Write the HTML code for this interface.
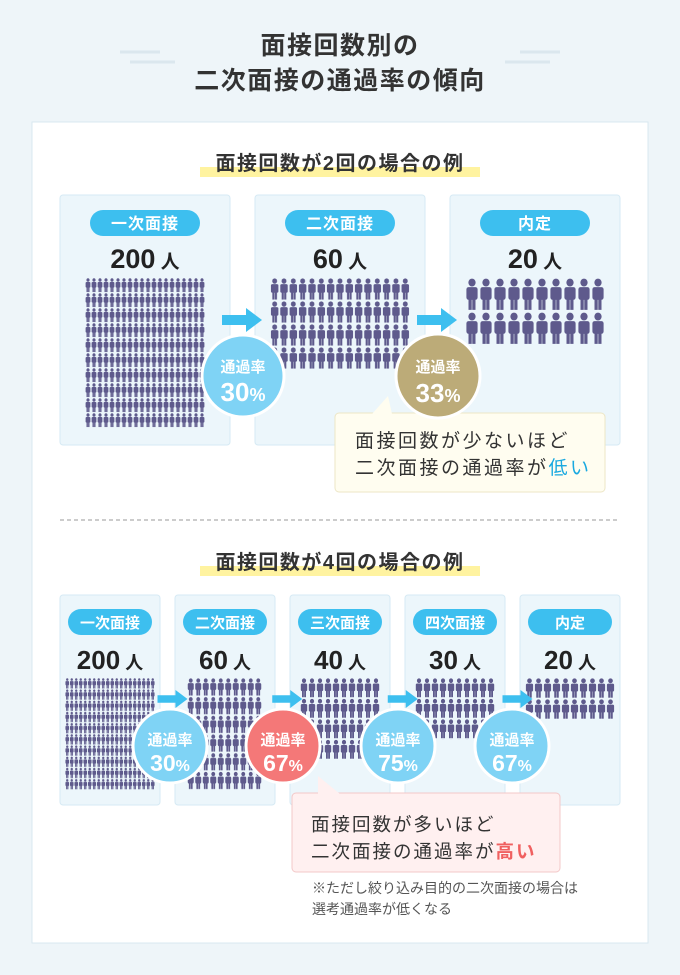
<!DOCTYPE html>
<html><head><meta charset="utf-8"><style>
html,body{margin:0;padding:0;background:#eef5f9}
svg{display:block}
text{font-family:"Liberation Sans","Noto Sans CJK JP",sans-serif}
</style></head><body>
<svg width="680" height="975" viewBox="0 0 680 975" xmlns="http://www.w3.org/2000/svg">
<defs>
<g id="p">
<ellipse cx="5" cy="3.2" rx="2.6" ry="2.8"/>
<rect x="1" y="6.4" width="8" height="9" rx="1.6"/>
<rect x="2.5" y="13" width="2.3" height="9.5"/>
<rect x="5.2" y="13" width="2.3" height="9.5"/>
</g>
<pattern id="pa" patternUnits="userSpaceOnUse" x="85" y="278" width="6" height="15" viewBox="0 0 10 24" preserveAspectRatio="none"><use href="#p" fill="#5e5a8c"/></pattern>
<pattern id="pb" patternUnits="userSpaceOnUse" x="270" y="278" width="9.33" height="23" viewBox="0 0 10 24" preserveAspectRatio="none"><use href="#p" fill="#5e5a8c"/></pattern>
<pattern id="pc" patternUnits="userSpaceOnUse" x="465" y="278" width="14" height="34" viewBox="0 0 10 24" preserveAspectRatio="none"><use href="#p" fill="#5e5a8c"/></pattern>
<pattern id="pd" patternUnits="userSpaceOnUse" x="65" y="678" width="4.5" height="11.2" viewBox="0 0 10 24" preserveAspectRatio="none"><use href="#p" fill="#5e5a8c"/></pattern>
<pattern id="pe" patternUnits="userSpaceOnUse" x="187" y="678" width="7.5" height="18.7" viewBox="0 0 10 24" preserveAspectRatio="none"><use href="#p" fill="#5e5a8c"/></pattern>
<pattern id="pf" patternUnits="userSpaceOnUse" x="300" y="678" width="8" height="20.5" viewBox="0 0 10 24" preserveAspectRatio="none"><use href="#p" fill="#5e5a8c"/></pattern>
<pattern id="pf2" patternUnits="userSpaceOnUse" x="415" y="678" width="8" height="20.5" viewBox="0 0 10 24" preserveAspectRatio="none"><use href="#p" fill="#5e5a8c"/></pattern>
<pattern id="pg" patternUnits="userSpaceOnUse" x="525" y="678" width="9" height="21" viewBox="0 0 10 24" preserveAspectRatio="none"><use href="#p" fill="#5e5a8c"/></pattern>
<g id="arr"><rect x="0" y="-5" width="26" height="10" fill="#3dbfef"/><polygon points="24,-12 40,0 24,12" fill="#3dbfef"/></g>
</defs>
<rect width="680" height="975" fill="#eef5f9"/>
<g stroke="#dbe7ee" stroke-width="3"><line x1="120" y1="52" x2="160" y2="52"/><line x1="130" y1="62" x2="175" y2="62"/><line x1="520" y1="52" x2="560" y2="52"/><line x1="505" y1="62" x2="550" y2="62"/></g>
<text x="340" y="54" text-anchor="middle" font-size="25" font-weight="bold" fill="#333" letter-spacing="1.5">面接回数別の</text>
<text x="340" y="89" text-anchor="middle" font-size="25" font-weight="bold" fill="#333" letter-spacing="1.5">二次面接の通過率の傾向</text>
<rect x="32" y="122" width="616" height="821" fill="#fff" stroke="#d8e8f0"/>
<!-- section 1 -->
<rect x="200" y="167" width="280" height="10" fill="#fff3a0"/>
<text x="340" y="170" text-anchor="middle" font-size="20" font-weight="bold" fill="#333" letter-spacing="1.5">面接回数が2回の場合の例</text>
<g fill="#ecf6fb" stroke="#d6eaf4"><rect x="60" y="195" width="170" height="250" rx="3"/><rect x="255" y="195" width="170" height="250" rx="3"/><rect x="450" y="195" width="170" height="250" rx="3"/></g>
<g fill="#3dbfef"><rect x="90" y="210" width="110" height="26" rx="13"/><rect x="285" y="210" width="110" height="26" rx="13"/><rect x="480" y="210" width="110" height="26" rx="13"/></g>
<g fill="#fff" font-size="16" font-weight="bold" text-anchor="middle" letter-spacing="1"><text x="145" y="229">一次面接</text><text x="340" y="229">二次面接</text><text x="535" y="229">内定</text></g>
<g fill="#222" font-weight="bold" text-anchor="middle"><text x="145" y="268" font-size="27">200<tspan font-size="19"> 人</tspan></text><text x="340" y="268" font-size="27">60<tspan font-size="19"> 人</tspan></text><text x="535" y="268" font-size="27">20<tspan font-size="19"> 人</tspan></text></g>
<rect x="85" y="278" width="120" height="150" fill="url(#pa)"/>
<rect x="270" y="278" width="140" height="92" fill="url(#pb)"/>
<rect x="465" y="278" width="140" height="68" fill="url(#pc)"/>
<use href="#arr" x="222" y="320"/><use href="#arr" x="417" y="320"/>
<circle cx="243" cy="376" r="41" fill="#7fd3f5" stroke="#fff" stroke-width="3"/>
<text x="243" y="372" text-anchor="middle" font-size="15" font-weight="bold" fill="#fff">通過率</text>
<text x="243" y="401" text-anchor="middle" font-size="26" font-weight="bold" fill="#fff">30<tspan font-size="18">%</tspan></text>
<rect x="335" y="413" width="270" height="79" rx="4" fill="#fffdf0" stroke="#ece6c6"/>
<polygon points="372,414 392,414 388,396" fill="#fffdf0"/>
<circle cx="438" cy="376" r="42" fill="#bcab78" stroke="#fff" stroke-width="3"/>
<text x="438" y="372" text-anchor="middle" font-size="15" font-weight="bold" fill="#fff">通過率</text>
<text x="438" y="402" text-anchor="middle" font-size="26" font-weight="bold" fill="#fff">33<tspan font-size="18">%</tspan></text>
<text x="355" y="447" font-size="19" fill="#333" letter-spacing="2.5">面接回数が少ないほど</text>
<text x="355" y="474" font-size="19" fill="#333" letter-spacing="2.5">二次面接の通過率が<tspan fill="#1aa9e0">低い</tspan></text>
<line x1="60" y1="520" x2="620" y2="520" stroke="#999" stroke-dasharray="4,3"/>
<!-- section 2 -->
<rect x="200" y="566" width="280" height="10" fill="#fff3a0"/>
<text x="340" y="569" text-anchor="middle" font-size="20" font-weight="bold" fill="#333" letter-spacing="1.5">面接回数が4回の場合の例</text>
<g fill="#ecf6fb" stroke="#d6eaf4"><rect x="60" y="595" width="100" height="210" rx="3"/><rect x="175" y="595" width="100" height="210" rx="3"/><rect x="290" y="595" width="100" height="210" rx="3"/><rect x="405" y="595" width="100" height="210" rx="3"/><rect x="520" y="595" width="100" height="210" rx="3"/></g>
<g fill="#3dbfef"><rect x="68" y="609" width="84" height="26" rx="13"/><rect x="183" y="609" width="84" height="26" rx="13"/><rect x="298" y="609" width="84" height="26" rx="13"/><rect x="413" y="609" width="84" height="26" rx="13"/><rect x="528" y="609" width="84" height="26" rx="13"/></g>
<g fill="#fff" font-size="15" font-weight="bold" text-anchor="middle"><text x="110" y="628">一次面接</text><text x="225" y="628">二次面接</text><text x="340" y="628">三次面接</text><text x="455" y="628">四次面接</text><text x="570" y="628">内定</text></g>
<g fill="#222" font-weight="bold" text-anchor="middle" font-size="26"><text x="110" y="669">200<tspan font-size="18"> 人</tspan></text><text x="225" y="669">60<tspan font-size="18"> 人</tspan></text><text x="340" y="669">40<tspan font-size="18"> 人</tspan></text><text x="455" y="669">30<tspan font-size="18"> 人</tspan></text><text x="570" y="669">20<tspan font-size="18"> 人</tspan></text></g>
<rect x="65" y="678" width="90" height="112" fill="url(#pd)"/>
<rect x="187" y="678" width="75" height="112" fill="url(#pe)"/>
<rect x="300" y="678" width="80" height="82" fill="url(#pf)"/>
<rect x="415" y="678" width="80" height="62" fill="url(#pf2)"/>
<rect x="525" y="678" width="90" height="42" fill="url(#pg)"/>
<g transform="scale(0.75)"><use href="#arr" x="210" y="932"/><use href="#arr" x="363" y="932"/><use href="#arr" x="517" y="932"/><use href="#arr" x="670" y="932"/></g>
<g font-weight="bold" fill="#fff" text-anchor="middle">
<circle cx="170" cy="746" r="37" fill="#7fd3f5" stroke="#fff" stroke-width="3"/><text x="170" y="745" font-size="15">通過率</text><text x="170" y="771" font-size="23">30<tspan font-size="16">%</tspan></text>
<rect x="292" y="793" width="268" height="79" rx="4" fill="#fff0f0" stroke="#f3c8c8"/>
<polygon points="318,794 340,794 318,776" fill="#fff0f0"/>
<circle cx="283" cy="746" r="37" fill="#f47878" stroke="#fff" stroke-width="3"/><text x="283" y="745" font-size="15">通過率</text><text x="283" y="771" font-size="23">67<tspan font-size="16">%</tspan></text>
<circle cx="398" cy="746" r="37" fill="#7fd3f5" stroke="#fff" stroke-width="3"/><text x="398" y="745" font-size="15">通過率</text><text x="398" y="771" font-size="23">75<tspan font-size="16">%</tspan></text>
<circle cx="512" cy="746" r="37" fill="#7fd3f5" stroke="#fff" stroke-width="3"/><text x="512" y="745" font-size="15">通過率</text><text x="512" y="771" font-size="23">67<tspan font-size="16">%</tspan></text>
</g>
<text x="311" y="831" font-size="18.5" fill="#333" letter-spacing="2">面接回数が多いほど</text>
<text x="311" y="858" font-size="18.5" fill="#333" letter-spacing="2">二次面接の通過率が<tspan fill="#f06060" font-weight="bold">高い</tspan></text>
<text x="312" y="893" font-size="14" fill="#555">※ただし絞り込み目的の二次面接の場合は</text>
<text x="312" y="914" font-size="14" fill="#555">選考通過率が低くなる</text>
</svg>
</body></html>
